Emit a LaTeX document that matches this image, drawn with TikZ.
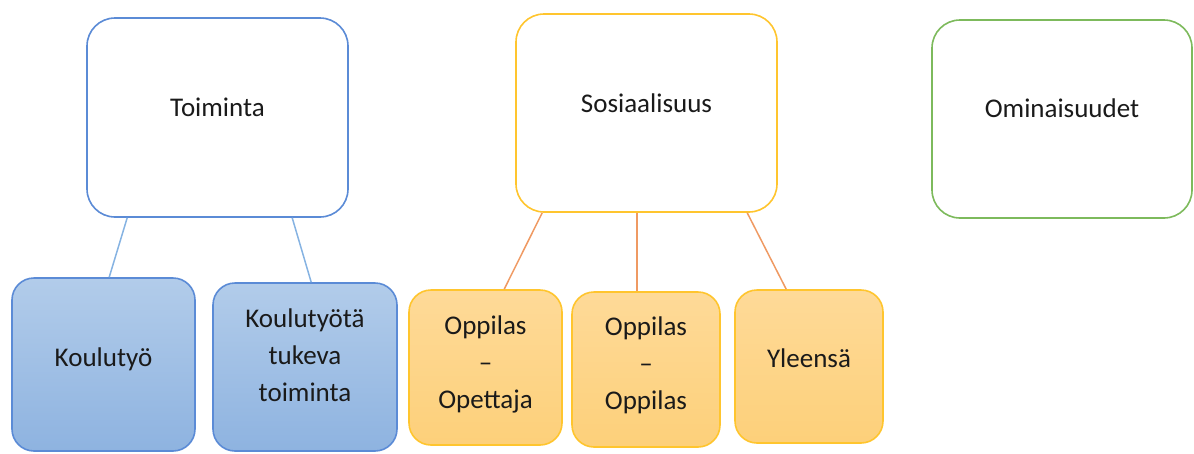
\documentclass[tikz,border=0pt]{standalone}
\usepackage{fontspec}
\setmainfont{Carlito}
\usetikzlibrary{calc}
\definecolor{bluebd}{HTML}{5B8BD6}
\definecolor{bluetop}{HTML}{B2CCEA}
\definecolor{bluebot}{HTML}{8EB3E0}
\definecolor{bluecon}{HTML}{86B3E2}
\definecolor{orbd}{HTML}{FFC52E}
\definecolor{ortop}{HTML}{FEDA98}
\definecolor{orbot}{HTML}{FDD07A}
\definecolor{orcon}{HTML}{EF9A63}
\definecolor{grbd}{HTML}{7DBA5C}
\definecolor{txt}{HTML}{1A1A1A}
\newcommand{\lift}[2]{\raisebox{#1}[\height][\depth]{#2}}
\tikzset{
  topbox/.style={draw, line width=1.6pt, rounded corners=28pt, fill=white, inner sep=0pt, align=center, text=txt},
  subbox/.style={draw, line width=1.6pt, rounded corners=22pt, inner sep=0pt, align=center, text=txt},
  bluesub/.style={subbox, draw=bluebd, top color=bluetop, bottom color=bluebot},
  orsub/.style={subbox, draw=orbd, top color=ortop, bottom color=orbot},
  bluecn/.style={draw=bluecon, line width=1.5pt},
  orcn/.style={draw=orcon, line width=1.5pt}
}
\begin{document}
\begin{tikzpicture}[x=1pt,y=-1pt,font=\fontsize{27}{37}\selectfont]
\useasboundingbox (0,0) rectangle (1194,453);
% top boxes
\node[topbox, draw=bluebd, minimum width=261pt, minimum height=199pt] (toim) at (217.5,117.5) {\lift{10pt}{Toiminta}};
\node[topbox, draw=orbd, minimum width=261pt, minimum height=198pt] (sos) at (646.5,113) {\lift{10pt}{Sosiaalisuus}};
\node[topbox, draw=grbd, minimum width=260pt, minimum height=198pt] (omi) at (1062,119) {\lift{10.5pt}{Ominaisuudet}};
% blue sub boxes
\node[bluesub, minimum width=183pt, minimum height=173pt] (kt) at (103.5,364.5) {\lift{5pt}{Koulutyö}};
\node[bluesub, minimum width=184pt, minimum height=168pt] (ktt) at (305,367) {\lift{10pt}{\begin{tabular}{@{}c@{}}Koulutyötä\\tukeva\\toiminta\end{tabular}}};
% orange sub boxes
\node[orsub, minimum width=153pt, minimum height=155pt] (opo) at (485.5,367.5) {\lift{3pt}{\begin{tabular}{@{}c@{}}Oppilas\\–\\Opettaja\end{tabular}}};
\node[orsub, minimum width=148pt, minimum height=155pt] (opp) at (646,369.5) {\lift{4pt}{\begin{tabular}{@{}c@{}}Oppilas\\–\\Oppilas\end{tabular}}};
\node[orsub, minimum width=148pt, minimum height=153pt] (yle) at (809,366.5) {\lift{8.5pt}{Yleensä}};
% connectors
\draw[bluecn] ($(toim.south west)+(41,0)$) -- ($(kt.north west)+(98,0)$);
\draw[bluecn] ($(toim.south west)+(206,0)$) -- ($(ktt.north west)+(99,0)$);
\draw[orcn] ($(sos.south west)+(27,0)$) -- ($(opo.north west)+(96,0)$);
\draw[orcn] ($(sos.south west)+(122,0)$) -- ($(opp.north west)+(66,0)$);
\draw[orcn] ($(sos.south west)+(232,0)$) -- ($(yle.north west)+(52,0)$);
\end{tikzpicture}
\end{document}
